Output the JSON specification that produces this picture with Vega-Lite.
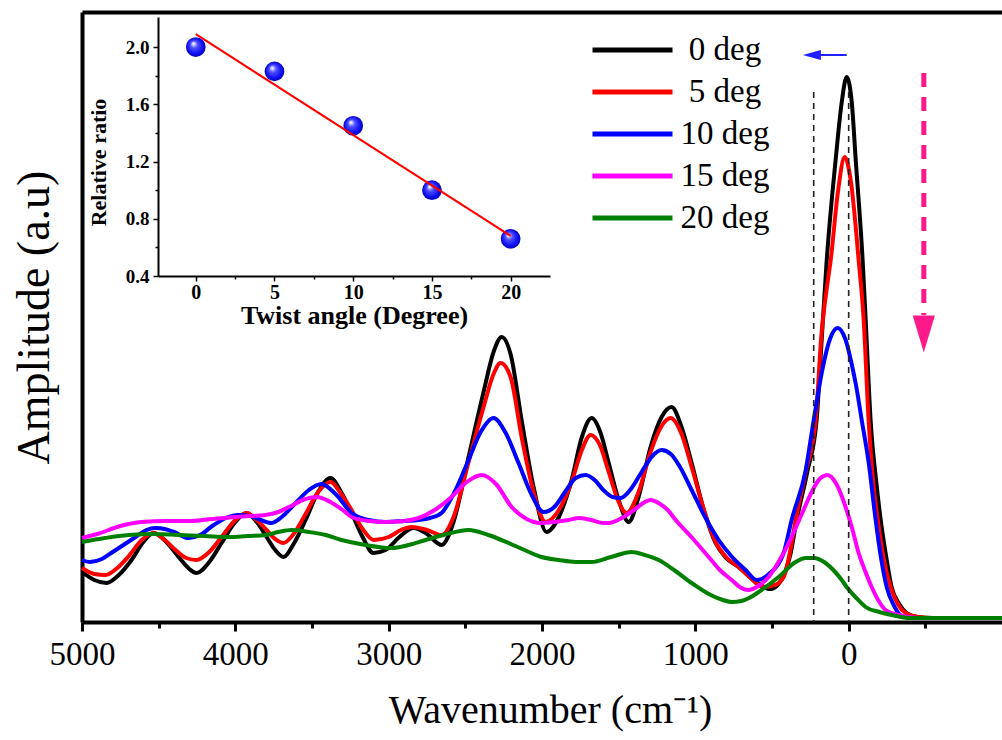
{
  "$schema": "https://vega.github.io/schema/vega-lite/v6.json",
  "width": 920,
  "height": 610,
  "autosize": {"type": "none"},
  "padding": {"left": 82, "top": 12, "right": 0, "bottom": 118},
  "background": "white",
  "config": {"view": {"stroke": null}, "axis": {"labelFont": "Liberation Serif", "titleFont": "Liberation Serif"}, "legend": {"labelFont": "Liberation Serif"}},
  "datasets": {
    "curves": [
      {"deg":"0 deg","wn":5000,"amp":50},{"deg":"0 deg","wn":4920,"amp":42},{"deg":"0 deg","wn":4840,"amp":39},{"deg":"0 deg","wn":4760,"amp":47},{"deg":"0 deg","wn":4677,"amp":62},{"deg":"0 deg","wn":4600,"amp":80},{"deg":"0 deg","wn":4533,"amp":89},{"deg":"0 deg","wn":4450,"amp":80},{"deg":"0 deg","wn":4370,"amp":65},{"deg":"0 deg","wn":4300,"amp":53},{"deg":"0 deg","wn":4253,"amp":49},{"deg":"0 deg","wn":4170,"amp":60},{"deg":"0 deg","wn":4090,"amp":79},{"deg":"0 deg","wn":4000,"amp":100},{"deg":"0 deg","wn":3927,"amp":109},{"deg":"0 deg","wn":3860,"amp":100},{"deg":"0 deg","wn":3796,"amp":85},{"deg":"0 deg","wn":3740,"amp":72},{"deg":"0 deg","wn":3686,"amp":65},{"deg":"0 deg","wn":3620,"amp":78},{"deg":"0 deg","wn":3542,"amp":102},{"deg":"0 deg","wn":3460,"amp":130},{"deg":"0 deg","wn":3379,"amp":144},{"deg":"0 deg","wn":3310,"amp":130},{"deg":"0 deg","wn":3242,"amp":109},{"deg":"0 deg","wn":3170,"amp":85},{"deg":"0 deg","wn":3100,"amp":69},{"deg":"0 deg","wn":3020,"amp":72},{"deg":"0 deg","wn":2930,"amp":85},{"deg":"0 deg","wn":2838,"amp":94},{"deg":"0 deg","wn":2750,"amp":88},{"deg":"0 deg","wn":2655,"amp":77},{"deg":"0 deg","wn":2577,"amp":100},{"deg":"0 deg","wn":2479,"amp":165},{"deg":"0 deg","wn":2381,"amp":230},{"deg":"0 deg","wn":2316,"amp":270},{"deg":"0 deg","wn":2263,"amp":285},{"deg":"0 deg","wn":2205,"amp":268},{"deg":"0 deg","wn":2133,"amp":202},{"deg":"0 deg","wn":2055,"amp":135},{"deg":"0 deg","wn":1970,"amp":90},{"deg":"0 deg","wn":1890,"amp":105},{"deg":"0 deg","wn":1807,"amp":142},{"deg":"0 deg","wn":1740,"amp":185},{"deg":"0 deg","wn":1676,"amp":204},{"deg":"0 deg","wn":1620,"amp":190},{"deg":"0 deg","wn":1565,"amp":159},{"deg":"0 deg","wn":1500,"amp":122},{"deg":"0 deg","wn":1435,"amp":100},{"deg":"0 deg","wn":1370,"amp":125},{"deg":"0 deg","wn":1292,"amp":175},{"deg":"0 deg","wn":1220,"amp":205},{"deg":"0 deg","wn":1155,"amp":215},{"deg":"0 deg","wn":1090,"amp":195},{"deg":"0 deg","wn":1024,"amp":159},{"deg":"0 deg","wn":950,"amp":115},{"deg":"0 deg","wn":868,"amp":79},{"deg":"0 deg","wn":800,"amp":64},{"deg":"0 deg","wn":718,"amp":55},{"deg":"0 deg","wn":620,"amp":42},{"deg":"0 deg","wn":510,"amp":33},{"deg":"0 deg","wn":457,"amp":38},{"deg":"0 deg","wn":378,"amp":69},{"deg":"0 deg","wn":339,"amp":102},{"deg":"0 deg","wn":270,"amp":150},{"deg":"0 deg","wn":209,"amp":202},{"deg":"0 deg","wn":176,"amp":282},{"deg":"0 deg","wn":143,"amp":362},{"deg":"0 deg","wn":85,"amp":462},{"deg":"0 deg","wn":45,"amp":520},{"deg":"0 deg","wn":13,"amp":545},{"deg":"0 deg","wn":-20,"amp":520},{"deg":"0 deg","wn":-46,"amp":462},{"deg":"0 deg","wn":-91,"amp":362},{"deg":"0 deg","wn":-111,"amp":302},{"deg":"0 deg","wn":-143,"amp":202},{"deg":"0 deg","wn":-180,"amp":140},{"deg":"0 deg","wn":-209,"amp":102},{"deg":"0 deg","wn":-245,"amp":65},{"deg":"0 deg","wn":-280,"amp":35},{"deg":"0 deg","wn":-330,"amp":18},{"deg":"0 deg","wn":-378,"amp":9},{"deg":"0 deg","wn":-450,"amp":5},{"deg":"0 deg","wn":-550,"amp":4},{"deg":"0 deg","wn":-1000,"amp":4},

      {"deg":"5 deg","wn":5000,"amp":54},{"deg":"5 deg","wn":4920,"amp":48},{"deg":"5 deg","wn":4847,"amp":47},{"deg":"5 deg","wn":4770,"amp":54},{"deg":"5 deg","wn":4700,"amp":65},{"deg":"5 deg","wn":4610,"amp":82},{"deg":"5 deg","wn":4533,"amp":89},{"deg":"5 deg","wn":4460,"amp":82},{"deg":"5 deg","wn":4390,"amp":72},{"deg":"5 deg","wn":4320,"amp":64},{"deg":"5 deg","wn":4253,"amp":62},{"deg":"5 deg","wn":4170,"amp":70},{"deg":"5 deg","wn":4090,"amp":85},{"deg":"5 deg","wn":4000,"amp":102},{"deg":"5 deg","wn":3927,"amp":109},{"deg":"5 deg","wn":3860,"amp":102},{"deg":"5 deg","wn":3796,"amp":92},{"deg":"5 deg","wn":3740,"amp":83},{"deg":"5 deg","wn":3686,"amp":79},{"deg":"5 deg","wn":3620,"amp":88},{"deg":"5 deg","wn":3542,"amp":108},{"deg":"5 deg","wn":3460,"amp":130},{"deg":"5 deg","wn":3379,"amp":140},{"deg":"5 deg","wn":3310,"amp":128},{"deg":"5 deg","wn":3242,"amp":112},{"deg":"5 deg","wn":3170,"amp":93},{"deg":"5 deg","wn":3098,"amp":82},{"deg":"5 deg","wn":3000,"amp":85},{"deg":"5 deg","wn":2920,"amp":92},{"deg":"5 deg","wn":2850,"amp":95},{"deg":"5 deg","wn":2750,"amp":92},{"deg":"5 deg","wn":2655,"amp":87},{"deg":"5 deg","wn":2577,"amp":105},{"deg":"5 deg","wn":2479,"amp":160},{"deg":"5 deg","wn":2381,"amp":215},{"deg":"5 deg","wn":2316,"amp":248},{"deg":"5 deg","wn":2270,"amp":259},{"deg":"5 deg","wn":2205,"amp":245},{"deg":"5 deg","wn":2133,"amp":185},{"deg":"5 deg","wn":2055,"amp":130},{"deg":"5 deg","wn":1976,"amp":100},{"deg":"5 deg","wn":1890,"amp":112},{"deg":"5 deg","wn":1807,"amp":140},{"deg":"5 deg","wn":1740,"amp":172},{"deg":"5 deg","wn":1683,"amp":187},{"deg":"5 deg","wn":1620,"amp":176},{"deg":"5 deg","wn":1565,"amp":150},{"deg":"5 deg","wn":1500,"amp":120},{"deg":"5 deg","wn":1448,"amp":109},{"deg":"5 deg","wn":1370,"amp":130},{"deg":"5 deg","wn":1292,"amp":170},{"deg":"5 deg","wn":1220,"amp":196},{"deg":"5 deg","wn":1161,"amp":204},{"deg":"5 deg","wn":1090,"amp":188},{"deg":"5 deg","wn":1024,"amp":155},{"deg":"5 deg","wn":950,"amp":115},{"deg":"5 deg","wn":868,"amp":80},{"deg":"5 deg","wn":800,"amp":65},{"deg":"5 deg","wn":718,"amp":55},{"deg":"5 deg","wn":640,"amp":44},{"deg":"5 deg","wn":560,"amp":35},{"deg":"5 deg","wn":480,"amp":37},{"deg":"5 deg","wn":424,"amp":45},{"deg":"5 deg","wn":380,"amp":72},{"deg":"5 deg","wn":346,"amp":102},{"deg":"5 deg","wn":280,"amp":150},{"deg":"5 deg","wn":215,"amp":202},{"deg":"5 deg","wn":176,"amp":290},{"deg":"5 deg","wn":146,"amp":330},{"deg":"5 deg","wn":117,"amp":362},{"deg":"5 deg","wn":70,"amp":430},{"deg":"5 deg","wn":26,"amp":465},{"deg":"5 deg","wn":-15,"amp":440},{"deg":"5 deg","wn":-65,"amp":362},{"deg":"5 deg","wn":-98,"amp":302},{"deg":"5 deg","wn":-130,"amp":202},{"deg":"5 deg","wn":-160,"amp":140},{"deg":"5 deg","wn":-190,"amp":102},{"deg":"5 deg","wn":-230,"amp":62},{"deg":"5 deg","wn":-274,"amp":35},{"deg":"5 deg","wn":-320,"amp":18},{"deg":"5 deg","wn":-372,"amp":9},{"deg":"5 deg","wn":-450,"amp":5},{"deg":"5 deg","wn":-550,"amp":4},{"deg":"5 deg","wn":-1000,"amp":4},

      {"deg":"10 deg","wn":5000,"amp":62},{"deg":"10 deg","wn":4950,"amp":60},{"deg":"10 deg","wn":4870,"amp":63},{"deg":"10 deg","wn":4800,"amp":70},{"deg":"10 deg","wn":4720,"amp":78},{"deg":"10 deg","wn":4650,"amp":85},{"deg":"10 deg","wn":4580,"amp":92},{"deg":"10 deg","wn":4520,"amp":94},{"deg":"10 deg","wn":4460,"amp":93},{"deg":"10 deg","wn":4400,"amp":90},{"deg":"10 deg","wn":4305,"amp":84},{"deg":"10 deg","wn":4230,"amp":87},{"deg":"10 deg","wn":4150,"amp":96},{"deg":"10 deg","wn":4060,"amp":104},{"deg":"10 deg","wn":3979,"amp":107},{"deg":"10 deg","wn":3900,"amp":106},{"deg":"10 deg","wn":3850,"amp":103},{"deg":"10 deg","wn":3764,"amp":99},{"deg":"10 deg","wn":3690,"amp":106},{"deg":"10 deg","wn":3607,"amp":119},{"deg":"10 deg","wn":3520,"amp":132},{"deg":"10 deg","wn":3440,"amp":138},{"deg":"10 deg","wn":3340,"amp":127},{"deg":"10 deg","wn":3242,"amp":109},{"deg":"10 deg","wn":3130,"amp":102},{"deg":"10 deg","wn":3020,"amp":100},{"deg":"10 deg","wn":2900,"amp":101},{"deg":"10 deg","wn":2805,"amp":102},{"deg":"10 deg","wn":2730,"amp":104},{"deg":"10 deg","wn":2655,"amp":109},{"deg":"10 deg","wn":2570,"amp":130},{"deg":"10 deg","wn":2479,"amp":162},{"deg":"10 deg","wn":2400,"amp":190},{"deg":"10 deg","wn":2316,"amp":204},{"deg":"10 deg","wn":2240,"amp":190},{"deg":"10 deg","wn":2153,"amp":159},{"deg":"10 deg","wn":2070,"amp":128},{"deg":"10 deg","wn":1989,"amp":110},{"deg":"10 deg","wn":1920,"amp":115},{"deg":"10 deg","wn":1850,"amp":130},{"deg":"10 deg","wn":1780,"amp":144},{"deg":"10 deg","wn":1716,"amp":147},{"deg":"10 deg","wn":1650,"amp":141},{"deg":"10 deg","wn":1600,"amp":132},{"deg":"10 deg","wn":1540,"amp":125},{"deg":"10 deg","wn":1487,"amp":124},{"deg":"10 deg","wn":1420,"amp":133},{"deg":"10 deg","wn":1350,"amp":150},{"deg":"10 deg","wn":1280,"amp":166},{"deg":"10 deg","wn":1220,"amp":172},{"deg":"10 deg","wn":1160,"amp":168},{"deg":"10 deg","wn":1100,"amp":155},{"deg":"10 deg","wn":1024,"amp":132},{"deg":"10 deg","wn":940,"amp":106},{"deg":"10 deg","wn":848,"amp":82},{"deg":"10 deg","wn":760,"amp":65},{"deg":"10 deg","wn":672,"amp":52},{"deg":"10 deg","wn":600,"amp":42},{"deg":"10 deg","wn":520,"amp":48},{"deg":"10 deg","wn":424,"amp":69},{"deg":"10 deg","wn":372,"amp":102},{"deg":"10 deg","wn":280,"amp":152},{"deg":"10 deg","wn":228,"amp":202},{"deg":"10 deg","wn":172,"amp":252},{"deg":"10 deg","wn":122,"amp":283},{"deg":"10 deg","wn":72,"amp":294},{"deg":"10 deg","wn":22,"amp":283},{"deg":"10 deg","wn":-28,"amp":252},{"deg":"10 deg","wn":-50,"amp":235},{"deg":"10 deg","wn":-85,"amp":202},{"deg":"10 deg","wn":-130,"amp":160},{"deg":"10 deg","wn":-176,"amp":102},{"deg":"10 deg","wn":-210,"amp":65},{"deg":"10 deg","wn":-248,"amp":35},{"deg":"10 deg","wn":-300,"amp":15},{"deg":"10 deg","wn":-346,"amp":6},{"deg":"10 deg","wn":-450,"amp":4},{"deg":"10 deg","wn":-1000,"amp":4},

      {"deg":"15 deg","wn":5000,"amp":84},{"deg":"15 deg","wn":4900,"amp":88},{"deg":"15 deg","wn":4750,"amp":96},{"deg":"15 deg","wn":4612,"amp":100},{"deg":"15 deg","wn":4450,"amp":101},{"deg":"15 deg","wn":4286,"amp":101},{"deg":"15 deg","wn":4150,"amp":103},{"deg":"15 deg","wn":3999,"amp":105},{"deg":"15 deg","wn":3900,"amp":106},{"deg":"15 deg","wn":3803,"amp":107},{"deg":"15 deg","wn":3720,"amp":110},{"deg":"15 deg","wn":3650,"amp":115},{"deg":"15 deg","wn":3560,"amp":122},{"deg":"15 deg","wn":3470,"amp":125},{"deg":"15 deg","wn":3380,"amp":120},{"deg":"15 deg","wn":3300,"amp":112},{"deg":"15 deg","wn":3242,"amp":105},{"deg":"15 deg","wn":3130,"amp":101},{"deg":"15 deg","wn":3020,"amp":100},{"deg":"15 deg","wn":2900,"amp":101},{"deg":"15 deg","wn":2805,"amp":104},{"deg":"15 deg","wn":2700,"amp":112},{"deg":"15 deg","wn":2590,"amp":125},{"deg":"15 deg","wn":2490,"amp":140},{"deg":"15 deg","wn":2394,"amp":147},{"deg":"15 deg","wn":2300,"amp":138},{"deg":"15 deg","wn":2198,"amp":115},{"deg":"15 deg","wn":2100,"amp":103},{"deg":"15 deg","wn":2009,"amp":99},{"deg":"15 deg","wn":1920,"amp":100},{"deg":"15 deg","wn":1826,"amp":102},{"deg":"15 deg","wn":1761,"amp":104},{"deg":"15 deg","wn":1680,"amp":102},{"deg":"15 deg","wn":1600,"amp":99},{"deg":"15 deg","wn":1565,"amp":99},{"deg":"15 deg","wn":1480,"amp":104},{"deg":"15 deg","wn":1400,"amp":112},{"deg":"15 deg","wn":1340,"amp":119},{"deg":"15 deg","wn":1292,"amp":122},{"deg":"15 deg","wn":1230,"amp":118},{"deg":"15 deg","wn":1180,"amp":112},{"deg":"15 deg","wn":1128,"amp":102},{"deg":"15 deg","wn":1020,"amp":84},{"deg":"15 deg","wn":913,"amp":65},{"deg":"15 deg","wn":840,"amp":52},{"deg":"15 deg","wn":763,"amp":42},{"deg":"15 deg","wn":700,"amp":34},{"deg":"15 deg","wn":655,"amp":32},{"deg":"15 deg","wn":600,"amp":35},{"deg":"15 deg","wn":522,"amp":45},{"deg":"15 deg","wn":450,"amp":62},{"deg":"15 deg","wn":372,"amp":85},{"deg":"15 deg","wn":300,"amp":110},{"deg":"15 deg","wn":241,"amp":130},{"deg":"15 deg","wn":190,"amp":143},{"deg":"15 deg","wn":137,"amp":147},{"deg":"15 deg","wn":80,"amp":138},{"deg":"15 deg","wn":20,"amp":115},{"deg":"15 deg","wn":-20,"amp":95},{"deg":"15 deg","wn":-65,"amp":69},{"deg":"15 deg","wn":-110,"amp":50},{"deg":"15 deg","wn":-150,"amp":35},{"deg":"15 deg","wn":-200,"amp":20},{"deg":"15 deg","wn":-241,"amp":12},{"deg":"15 deg","wn":-326,"amp":7},{"deg":"15 deg","wn":-450,"amp":4},{"deg":"15 deg","wn":-1000,"amp":4},

      {"deg":"20 deg","wn":5000,"amp":80},{"deg":"20 deg","wn":4850,"amp":84},{"deg":"20 deg","wn":4697,"amp":87},{"deg":"20 deg","wn":4530,"amp":88},{"deg":"20 deg","wn":4370,"amp":87},{"deg":"20 deg","wn":4200,"amp":86},{"deg":"20 deg","wn":4044,"amp":85},{"deg":"20 deg","wn":3920,"amp":86},{"deg":"20 deg","wn":3803,"amp":87},{"deg":"20 deg","wn":3720,"amp":90},{"deg":"20 deg","wn":3633,"amp":92},{"deg":"20 deg","wn":3520,"amp":90},{"deg":"20 deg","wn":3411,"amp":87},{"deg":"20 deg","wn":3307,"amp":82},{"deg":"20 deg","wn":3150,"amp":77},{"deg":"20 deg","wn":2981,"amp":74},{"deg":"20 deg","wn":2870,"amp":77},{"deg":"20 deg","wn":2759,"amp":82},{"deg":"20 deg","wn":2620,"amp":88},{"deg":"20 deg","wn":2479,"amp":92},{"deg":"20 deg","wn":2350,"amp":87},{"deg":"20 deg","wn":2218,"amp":79},{"deg":"20 deg","wn":2100,"amp":71},{"deg":"20 deg","wn":2003,"amp":65},{"deg":"20 deg","wn":1892,"amp":62},{"deg":"20 deg","wn":1780,"amp":60},{"deg":"20 deg","wn":1676,"amp":60},{"deg":"20 deg","wn":1550,"amp":65},{"deg":"20 deg","wn":1415,"amp":70},{"deg":"20 deg","wn":1330,"amp":67},{"deg":"20 deg","wn":1239,"amp":62},{"deg":"20 deg","wn":1130,"amp":51},{"deg":"20 deg","wn":1024,"amp":39},{"deg":"20 deg","wn":900,"amp":27},{"deg":"20 deg","wn":820,"amp":22},{"deg":"20 deg","wn":763,"amp":20},{"deg":"20 deg","wn":700,"amp":21},{"deg":"20 deg","wn":650,"amp":24},{"deg":"20 deg","wn":541,"amp":35},{"deg":"20 deg","wn":457,"amp":45},{"deg":"20 deg","wn":346,"amp":60},{"deg":"20 deg","wn":280,"amp":64},{"deg":"20 deg","wn":228,"amp":64},{"deg":"20 deg","wn":160,"amp":60},{"deg":"20 deg","wn":100,"amp":52},{"deg":"20 deg","wn":50,"amp":43},{"deg":"20 deg","wn":13,"amp":35},{"deg":"20 deg","wn":-50,"amp":24},{"deg":"20 deg","wn":-111,"amp":15},{"deg":"20 deg","wn":-200,"amp":10},{"deg":"20 deg","wn":-280,"amp":7},{"deg":"20 deg","wn":-400,"amp":4},{"deg":"20 deg","wn":-1000,"amp":4}
    ]
  },
  "layer": [
    {
      "data": {"name": "curves"},
      "mark": {"type": "line", "strokeWidth": 4, "interpolate": "monotone"},
      "encoding": {
        "x": {
          "field": "wn", "type": "quantitative",
          "scale": {"domain": [-1000, 5000], "reverse": true, "nice": false, "zero": false},
          "axis": {
            "orient": "bottom",
            "values": [5000, 4000, 3000, 2000, 1000, 0],
            "format": "d",
            "tickSize": 9, "tickWidth": 3, "tickColor": "black",
            "domainWidth": 4, "domainColor": "black",
            "labelFont": "Liberation Serif", "labelFontSize": 33, "labelColor": "black",
            "labelPadding": 7, "labelFlush": false, "labelOverlap": false,
            "title": "Wavenumber (cm⁻¹)", "titleFont": "Liberation Serif", "titleFontSize": 40,
            "titleFontWeight": "normal", "titleColor": "black", "titlePadding": 19, "titleX": 468,
            "grid": false
          }
        },
        "y": {
          "field": "amp", "type": "quantitative",
          "scale": {"domain": [0, 610], "nice": false, "zero": false},
          "axis": {
            "orient": "left", "domainWidth": 4, "domainColor": "black",
            "ticks": false, "labels": false, "grid": false,
            "title": "Amplitude (a.u)", "titleFont": "Liberation Serif", "titleFontSize": 46,
            "titleFontWeight": "normal", "titleColor": "black", "titlePadding": 24
          }
        },
        "color": {
          "field": "deg", "type": "nominal",
          "scale": {"domain": ["0 deg", "5 deg", "10 deg", "15 deg", "20 deg"], "range": ["#000000", "#ff0000", "#0000ff", "#ff00ff", "#008000"]},
          "legend": {
            "orient": "none", "legendX": 508, "legendY": 17, "direction": "vertical",
            "title": null, "symbolType": "stroke", "symbolSize": 6400, "symbolStrokeWidth": 5,
            "clipHeight": 42,
            "labelFont": "Liberation Serif", "labelFontSize": 33, "labelColor": "black",
            "labelAlign": "center", "labelOffset": 50, "rowPadding": 0, "padding": 0, "labelLimit": 0
          }
        },
        "order": {"field": "wn", "sort": "descending"}
      }
    },
    {
      "data": {"values": [{"wn": 228, "top": 530}, {"wn": 0, "top": 530}]},
      "mark": {"type": "rule", "strokeDash": [6, 5], "strokeWidth": 1.6, "color": "#222222"},
      "encoding": {
        "x": {"field": "wn", "type": "quantitative",
          "scale": {"domain": [-1000, 5000], "reverse": true, "nice": false, "zero": false},
          "axis": {"orient": "top", "domainWidth": 4, "domainColor": "black", "ticks": false, "labels": false, "title": null, "grid": false}},
        "y": {"field": "top", "type": "quantitative", "scale": {"domain": [0, 610], "nice": false, "zero": false}, "axis": null},
        "y2": {"datum": 0}
      }
    },
    {
      "data": {"values": [{"from": 13, "to": 200, "level": 567}]},
      "mark": {"type": "rule", "color": "#1f1fff", "strokeWidth": 2},
      "encoding": {
        "x": {"field": "from", "type": "quantitative", "scale": {"domain": [-1000, 5000], "reverse": true, "nice": false, "zero": false}, "axis": null},
        "x2": {"field": "to"},
        "y": {"field": "level", "type": "quantitative", "scale": {"domain": [0, 610], "nice": false, "zero": false}, "axis": null}
      }
    },
    {
      "data": {"values": [{"wn": 240, "level": 567}]},
      "mark": {"type": "point", "shape": "M-1,0L1,-0.55L1,0.55Z", "size": 324, "filled": true, "color": "#1f1fff", "opacity": 1},
      "encoding": {
        "x": {"field": "wn", "type": "quantitative", "scale": {"domain": [-1000, 5000], "reverse": true, "nice": false, "zero": false}, "axis": null},
        "y": {"field": "level", "type": "quantitative", "scale": {"domain": [0, 610], "nice": false, "zero": false}, "axis": null}
      }
    },
    {
      "data": {"values": [{"wn": -490, "from": 549, "to": 307}]},
      "mark": {"type": "rule", "color": "#ff1a8c", "strokeWidth": 5, "strokeDash": [14, 10]},
      "encoding": {
        "x": {"field": "wn", "type": "quantitative", "scale": {"domain": [-1000, 5000], "reverse": true, "nice": false, "zero": false},
          "axis": {"orient": "bottom", "values": [4500, 3500, 2500, 1500, 500, -500], "domain": false, "labels": false, "ticks": true, "tickSize": 6, "tickWidth": 3, "tickColor": "black", "title": null, "grid": false}},
        "y": {"field": "from", "type": "quantitative", "scale": {"domain": [0, 610], "nice": false, "zero": false}, "axis": null},
        "y2": {"field": "to"}
      }
    },
    {
      "data": {"values": [{"wn": -490, "level": 288}]},
      "mark": {"type": "point", "shape": "M-0.6,-1L0.6,-1L0,1Z", "size": 1369, "filled": true, "color": "#ff1a8c", "opacity": 1},
      "encoding": {
        "x": {"field": "wn", "type": "quantitative", "scale": {"domain": [-1000, 5000], "reverse": true, "nice": false, "zero": false}, "axis": null},
        "y": {"field": "level", "type": "quantitative", "scale": {"domain": [0, 610], "nice": false, "zero": false}, "axis": null}
      }
    },
    {
      "data": {"values": [{"angle": 0, "ratio": 2.0}, {"angle": 5, "ratio": 1.83}, {"angle": 10, "ratio": 1.45}, {"angle": 15, "ratio": 1.0}, {"angle": 20, "ratio": 0.66}]},
      "mark": {
        "type": "point", "filled": true, "size": 390, "opacity": 1,
        "fill": {"gradient": "radial", "x1": 0.38, "y1": 0.32, "r1": 0.02, "x2": 0.5, "y2": 0.5, "r2": 0.55,
          "stops": [{"offset": 0, "color": "#ffffff"}, {"offset": 0.3, "color": "#5050ff"}, {"offset": 0.7, "color": "#1010f0"}, {"offset": 1, "color": "#0000b0"}]}
      },
      "encoding": {
        "x": {
          "field": "angle", "type": "quantitative",
          "scale": {"domain": [-2.4, 22.5], "range": [76, 468], "nice": false, "zero": false},
          "axis": {
            "orient": "bottom", "offset": -346,
            "values": [0, 5, 10, 15, 20],
            "tickSize": 5, "tickWidth": 1.5, "tickColor": "black", "domainWidth": 2, "domainColor": "black",
            "labelFont": "Liberation Serif", "labelFontWeight": "bold", "labelFontSize": 20, "labelColor": "black",
            "labelPadding": 1, "labelFlush": false, "labelOverlap": false,
            "title": "Twist angle (Degree)", "titleFont": "Liberation Serif", "titleFontWeight": "bold",
            "titleFontSize": 26, "titleColor": "black", "titlePadding": 0, "grid": false
          }
        },
        "y": {
          "field": "ratio", "type": "quantitative",
          "scale": {"domain": [0.4, 2.21], "range": [264, 5], "nice": false, "zero": false},
          "axis": {
            "orient": "left", "offset": -76,
            "values": [0.4, 0.8, 1.2, 1.6, 2.0],
            "format": ".1f",
            "tickSize": 5, "tickWidth": 1.5, "tickColor": "black", "domainWidth": 2, "domainColor": "black",
            "labelFont": "Liberation Serif", "labelFontWeight": "bold", "labelFontSize": 19, "labelColor": "black",
            "labelPadding": 4, "labelFlush": false, "labelOverlap": false,
            "title": "Relative ratio", "titleFont": "Liberation Serif", "titleFontWeight": "bold",
            "titleFontSize": 22, "titleColor": "black", "titlePadding": 15, "titleY": 150, "grid": false
          }
        }
      }
    },
    {
      "data": {"values": [{"angle": 0, "fit": 2.09}, {"angle": 20, "fit": 0.68}]},
      "mark": {"type": "line", "color": "#ff0000", "strokeWidth": 2},
      "encoding": {
        "x": {"field": "angle", "type": "quantitative", "scale": {"domain": [-2.4, 22.5], "range": [76, 468], "nice": false, "zero": false},
          "axis": {"orient": "bottom", "offset": -346, "values": [2.5, 7.5, 12.5, 17.5], "domain": false, "labels": false, "ticks": true, "tickSize": 3, "tickWidth": 1.5, "tickColor": "black", "title": null, "grid": false}},
        "y": {"field": "fit", "type": "quantitative", "scale": {"domain": [0.4, 2.21], "range": [264, 5], "nice": false, "zero": false},
          "axis": {"orient": "left", "offset": -76, "values": [0.6, 1.0, 1.4, 1.8], "domain": false, "labels": false, "ticks": true, "tickSize": 3, "tickWidth": 1.5, "tickColor": "black", "title": null, "grid": false}}
      }
    }
  ],
  "resolve": {"scale": {"x": "independent", "y": "independent"}, "axis": {"x": "independent", "y": "independent"}}
}
